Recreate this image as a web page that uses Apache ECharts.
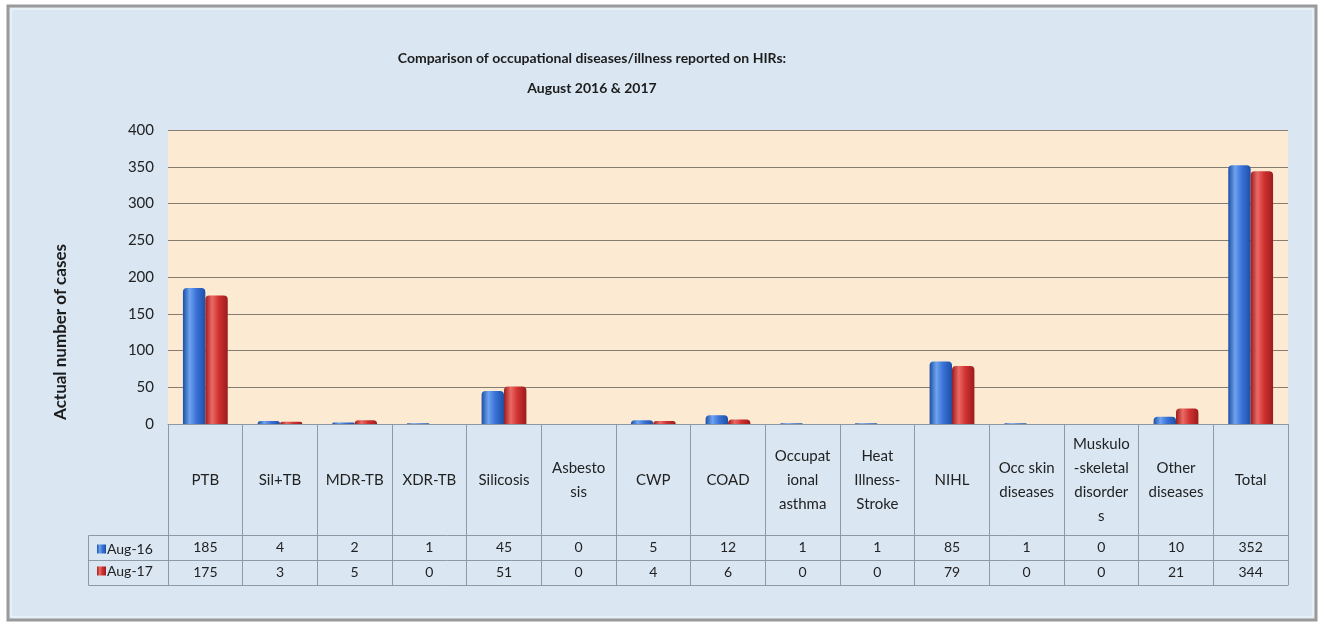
<!DOCTYPE html>
<html>
<head>
<meta charset="utf-8">
<title>Occupational diseases</title>
<script src="https://cdn.jsdelivr.net/npm/echarts@6/dist/echarts.min.js"></script>
<style>
  html, body { margin: 0; padding: 0; background: #ffffff; }
</style>
</head>
<body>
	<div id="main" style="width: 1324px; height: 626px;"></div>
	<script type="text/javascript">
		var categories = ['PTB', 'Sil+TB', 'MDR-TB', 'XDR-TB', 'Silicosis', 'Asbesto\nsis', 'CWP', 'COAD',
		                  'Occupat\nional\nasthma', 'Heat\nIllness-\nStroke', 'NIHL', 'Occ skin\ndiseases',
		                  'Muskulo\n-skeletal\ndisorder\ns', 'Other\ndiseases', 'Total'];
		var aug16 = [185, 4, 2, 1, 45, 0, 5, 12, 1, 1, 85, 1, 0, 10, 352];
		var aug17 = [175, 3, 5, 0, 51, 0, 4, 6, 0, 0, 79, 0, 0, 21, 344];
		var seriesNames = ['Aug-16', 'Aug-17'];
		var yTicks = [0, 400, 50];

		var myChart = echarts.init(document.getElementById('main'));

		var font = 'Lato, "Liberation Sans", sans-serif';
		var tableLine = '#8d99a4';

		function barColor(light, mid, dark) {
			return new echarts.graphic.LinearGradient(0, 0, 1, 0, [
				{ offset: 0, color: dark },
				{ offset: 0.3, color: light },
				{ offset: 0.6, color: mid },
				{ offset: 1, color: dark }
			]);
		}

		// one extra category axis per table row: the row line plus the numbers under it
		function tableAxis(offset, values) {
			return {
				type: 'category',
				position: 'bottom',
				offset: offset,
				data: categories,
				axisLine: { show: true, lineStyle: { color: tableLine, width: 1 } },
				axisTick: { show: false },
				axisLabel: {
					show: values != null,
					interval: 0,
					margin: 12,
					verticalAlign: 'middle',
					fontFamily: font,
					fontSize: 14,
					color: '#222',
					formatter: function (v, i) { return values ? String(values[i]) : ''; }
				}
			};
		}

		option = {
			backgroundColor: '#ffffff',
			textStyle: { fontFamily: font },
			title: {
				text: 'Comparison of occupational diseases/illness reported on HIRs:\nAugust 2016 & 2017',
				left: 587,
				textAlign: 'center',
				top: 38,
				textStyle: { fontSize: 14, fontWeight: 'bold', color: '#1c1c1c', lineHeight: 30, fontFamily: font }
			},
			legend: {
				orient: 'vertical',
				left: 92,
				top: 537,
				itemWidth: 9,
				itemHeight: 9,
				itemGap: 8,
				icon: 'rect',
				data: seriesNames,
				textStyle: { fontSize: 14, color: '#222', padding: [0, 0, 0, -4] }
			},
			graphic: [
				{ type: 'rect', z: -10, silent: true, shape: { x: 8, y: 6, width: 1308, height: 614 },
				  style: { fill: '#dae7f3', stroke: '#9a9a9a', lineWidth: 3 } },
				{ type: 'rect', z: -9, silent: true, shape: { x: 11, y: 9, width: 1302, height: 608 },
				  style: { fill: 'none', stroke: '#f4f8fb', lineWidth: 1 } },
				{ type: 'text', silent: true, x: 61, y: 332, rotation: Math.PI / 2,
				  style: { text: 'Actual number of cases', fontFamily: font, fontSize: 17, fontWeight: 'bold',
				           fill: '#1c1c1c', align: 'center', verticalAlign: 'middle' } },
				// left legend cells of the table
				{ type: 'polyline', silent: true,
				  shape: { points: [[168, 535.5], [88.5, 535.5], [88.5, 585.5], [168, 585.5]] },
				  style: { stroke: tableLine, lineWidth: 1, fill: 'none' } },
				{ type: 'line', silent: true, shape: { x1: 88.5, y1: 560.5, x2: 168, y2: 560.5 },
				  style: { stroke: tableLine, lineWidth: 1 } }
			],
			grid: {
				left: 168,
				right: 36,
				top: 130,
				bottom: 202,
				show: true,
				backgroundColor: '#fcebd2',
				borderWidth: 0
			},
			xAxis: [
				{
					type: 'category',
					data: categories,
					axisLine: { show: true, lineStyle: { color: tableLine } },
					axisTick: { show: true, length: 161, lineStyle: { color: tableLine } },
					axisLabel: {
						interval: 0,
						margin: 56,
						verticalAlign: 'middle',
						align: 'center',
						lineHeight: 24,
						fontFamily: font,
						fontSize: 15,
						color: '#222'
					}
				},
				tableAxis(111, aug16),
				tableAxis(136, aug17),
				tableAxis(161, null)
			],
			yAxis: {
				type: 'value',
				min: yTicks[0],
				max: yTicks[1],
				interval: yTicks[2],
				axisLine: { show: false },
				axisTick: { show: false },
				axisLabel: { fontSize: 15, color: '#222', margin: 14, fontFamily: font },
				splitLine: { lineStyle: { color: '#857d70', width: 1 } }
			},
			series: [
				{
					name: seriesNames[0],
					type: 'bar',
					data: aug16,
					barGap: '0%',
					barCategoryGap: '40%',
					itemStyle: {
						color: barColor('#6ea3ee', '#3a72d8', '#1d4fa6'),
						borderRadius: [4, 4, 0, 0]
					}
				},
				{
					name: seriesNames[1],
					type: 'bar',
					data: aug17,
					itemStyle: {
						color: barColor('#ea6a66', '#cf3230', '#9c1c1c'),
						borderRadius: [4, 4, 0, 0]
					}
				}
			]
		};
		myChart.setOption(option);
	</script>
</body>
</html>
